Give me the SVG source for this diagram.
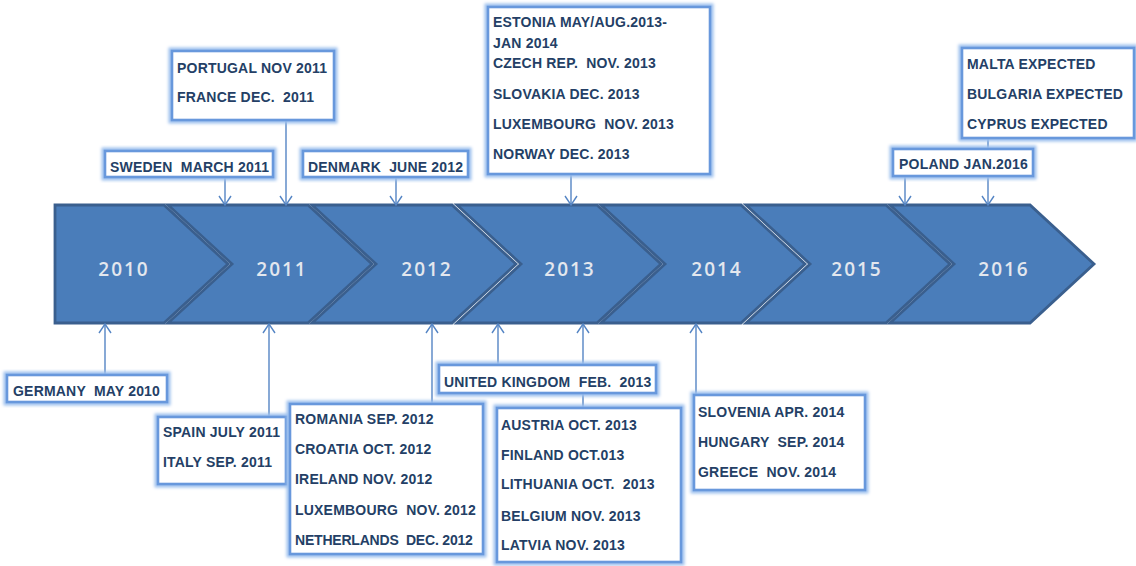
<svg xmlns="http://www.w3.org/2000/svg" width="1136" height="566" viewBox="0 0 1136 566">
<style>
.chev{fill:#4a7dba;stroke:#3a5f8e;stroke-width:2.8;stroke-linejoin:miter}
.yr{font-family:"Open Sans","DejaVu Sans",sans-serif;font-weight:600;font-size:19px;fill:#e3e7ee;text-anchor:middle;letter-spacing:2px}
.glow{fill:none;stroke:#9cc0ee;stroke-width:7;filter:url(#blur)}
.box{fill:#ffffff;stroke:#6898dc;stroke-width:2.6}
.lbl{font-family:"Liberation Sans",Arial,sans-serif;font-weight:bold;font-size:14px;fill:#243f66;letter-spacing:0.2px;white-space:pre}
.tight{letter-spacing:-0.2px}
.con{stroke:#5585c4;stroke-width:1.4;fill:none}
</style>
<defs>
<filter id="blur" x="-20%" y="-20%" width="140%" height="140%"><feGaussianBlur stdDeviation="1.8"/></filter>
<marker id="arr" viewBox="-11 -8 13 16" refX="0" refY="0" markerWidth="13" markerHeight="16" markerUnits="userSpaceOnUse" orient="auto">
<path d="M-9,-6 L0,0 L-9,6" fill="none" stroke="#5585c4" stroke-width="1.4"/>
</marker>
</defs>
<rect width="1136" height="566" fill="#ffffff"/>

<g id="timeline">
<polygon class="chev" points="55,205 164,205 228,264 164,323 55,323"/>
<polygon class="chev" points="168,205 308,205 372,264 308,323 168,323 232,264"/>
<polygon class="chev" points="312,205 452,205 516,264 452,323 312,323 376,264"/>
<polygon class="chev" points="457,205 597,205 661,264 597,323 457,323 521,264"/>
<polygon class="chev" points="601,205 741,205 805,264 741,323 601,323 665,264"/>
<polygon class="chev" points="746,205 886,205 950,264 886,323 746,323 810,264"/>
<polygon class="chev" points="890,205 1030,205 1094,264 1030,323 890,323 954,264"/>
<text class="yr" x="124" y="276">2010</text>
<text class="yr" x="282" y="276">2011</text>
<text class="yr" x="427" y="276">2012</text>
<text class="yr" x="570" y="276">2013</text>
<text class="yr" x="717" y="276">2014</text>
<text class="yr" x="857" y="276">2015</text>
<text class="yr" x="1004" y="276">2016</text>
</g>

<g id="connectors">
<line class="con" x1="225" y1="177" x2="225" y2="205" marker-end="url(#arr)"/>
<line class="con" x1="286" y1="120" x2="286" y2="205" marker-end="url(#arr)"/>
<line class="con" x1="396" y1="177" x2="396" y2="205" marker-end="url(#arr)"/>
<line class="con" x1="571" y1="174" x2="571" y2="205" marker-end="url(#arr)"/>
<line class="con" x1="905" y1="176" x2="905" y2="205" marker-end="url(#arr)"/>
<line class="con" x1="988" y1="138" x2="988" y2="205" marker-end="url(#arr)"/>
<line class="con" x1="105" y1="375" x2="105" y2="324" marker-end="url(#arr)"/>
<line class="con" x1="269" y1="417" x2="269" y2="324" marker-end="url(#arr)"/>
<line class="con" x1="432" y1="404" x2="432" y2="324" marker-end="url(#arr)"/>
<line class="con" x1="498" y1="365" x2="498" y2="324" marker-end="url(#arr)"/>
<line class="con" x1="583" y1="408" x2="583" y2="324" marker-end="url(#arr)"/>
<line class="con" x1="696" y1="395" x2="696" y2="324" marker-end="url(#arr)"/>
</g>

<g id="portugal">
<rect class="glow" x="172" y="51" width="162" height="69"/>
<rect class="box" x="172" y="51" width="162" height="69"/>
<text class="lbl" x="177" y="73">PORTUGAL NOV 2011</text>
<text class="lbl" x="177" y="102">FRANCE DEC.  2011</text>
</g>
<g id="sweden">
<rect class="glow" x="105" y="151" width="168" height="26"/>
<rect class="box" x="105" y="151" width="168" height="26"/>
<text class="lbl" x="110" y="172">SWEDEN  MARCH 2011</text>
</g>
<g id="denmark">
<rect class="glow" x="303" y="151" width="165" height="26"/>
<rect class="box" x="303" y="151" width="165" height="26"/>
<text class="lbl" x="308" y="172">DENMARK  JUNE 2012</text>
</g>
<g id="estonia">
<rect class="glow" x="488" y="7" width="222" height="167"/>
<rect class="box" x="488" y="7" width="222" height="167"/>
<text class="lbl" x="493" y="27">ESTONIA MAY/AUG.2013-</text>
<text class="lbl" x="493" y="48">JAN 2014</text>
<text class="lbl" x="493" y="68">CZECH REP.  NOV. 2013</text>
<text class="lbl" x="493" y="99">SLOVAKIA DEC. 2013</text>
<text class="lbl" x="493" y="129">LUXEMBOURG  NOV. 2013</text>
<text class="lbl" x="493" y="159">NORWAY DEC. 2013</text>
</g>
<g id="malta">
<rect class="glow" x="962" y="48" width="172" height="90"/>
<rect class="box" x="962" y="48" width="172" height="90"/>
<text class="lbl" x="967" y="69">MALTA EXPECTED</text>
<text class="lbl" x="967" y="99">BULGARIA EXPECTED</text>
<text class="lbl" x="967" y="129">CYPRUS EXPECTED</text>
</g>
<g id="poland">
<rect class="glow" x="893" y="149" width="140" height="27"/>
<rect class="box" x="893" y="149" width="140" height="27"/>
<text class="lbl" x="899" y="169">POLAND JAN.2016</text>
</g>
<g id="germany">
<rect class="glow" x="7" y="375" width="160" height="27"/>
<rect class="box" x="7" y="375" width="160" height="27"/>
<text class="lbl" x="13" y="396">GERMANY  MAY 2010</text>
</g>
<g id="spain">
<rect class="glow" x="158" y="417" width="128" height="67"/>
<rect class="box" x="158" y="417" width="128" height="67"/>
<text class="lbl" x="163" y="437">SPAIN JULY 2011</text>
<text class="lbl" x="163" y="467">ITALY SEP. 2011</text>
</g>
<g id="romania">
<rect class="glow" x="290" y="404" width="193" height="150"/>
<rect class="box" x="290" y="404" width="193" height="150"/>
<text class="lbl" x="295" y="424">ROMANIA SEP. 2012</text>
<text class="lbl" x="295" y="454">CROATIA OCT. 2012</text>
<text class="lbl" x="295" y="484">IRELAND NOV. 2012</text>
<text class="lbl" x="295" y="515">LUXEMBOURG  NOV. 2012</text>
<text class="lbl tight" x="295" y="545">NETHERLANDS  DEC. 2012</text>
</g>
<g id="uk">
<rect class="glow" x="439" y="365" width="217" height="28"/>
<rect class="box" x="439" y="365" width="217" height="28"/>
<text class="lbl" x="444" y="387">UNITED KINGDOM  FEB.  2013</text>
</g>
<g id="austria">
<rect class="glow" x="497" y="408" width="184" height="154"/>
<rect class="box" x="497" y="408" width="184" height="154"/>
<text class="lbl" x="501" y="430">AUSTRIA OCT. 2013</text>
<text class="lbl" x="501" y="460">FINLAND OCT.013</text>
<text class="lbl" x="501" y="489">LITHUANIA OCT.  2013</text>
<text class="lbl" x="501" y="521">BELGIUM NOV. 2013</text>
<text class="lbl" x="501" y="550">LATVIA NOV. 2013</text>
</g>
<g id="slovenia">
<rect class="glow" x="694" y="395" width="171" height="95"/>
<rect class="box" x="694" y="395" width="171" height="95"/>
<text class="lbl" x="698" y="417">SLOVENIA APR. 2014</text>
<text class="lbl" x="698" y="447">HUNGARY  SEP. 2014</text>
<text class="lbl" x="698" y="477">GREECE  NOV. 2014</text>
</g>
</svg>
